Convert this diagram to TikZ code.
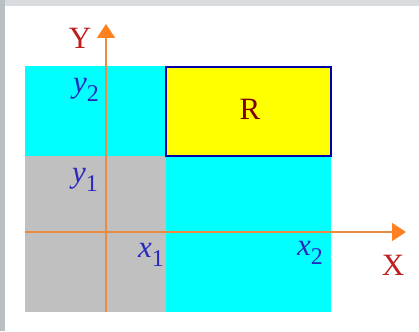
\documentclass[tikz,border=0pt]{standalone}
\usepackage{fontspec}
\setmainfont{Liberation Serif}
\usetikzlibrary{arrows.meta}
\definecolor{cyanfill}{RGB}{0,255,255}
\definecolor{yelfill}{RGB}{255,255,0}
\definecolor{greyfill}{RGB}{192,192,192}
\definecolor{rectblue}{RGB}{0,0,170}
\definecolor{axisorange}{RGB}{236,140,64}
\definecolor{tiporange}{RGB}{255,128,32}
\definecolor{axred}{RGB}{190,30,30}
\definecolor{rred}{RGB}{128,0,0}
\definecolor{lblblue}{RGB}{40,40,190}
\definecolor{frameleft}{RGB}{184,192,196}
\definecolor{frametop}{RGB}{216,220,222}
\tikzset{
  axis/.style={draw=axisorange, line width=1.6pt, -{Triangle[length=14pt,width=18pt,fill=tiporange,color=tiporange]}},
  axlabel/.style={text=axred, font=\fontsize{31}{31}\selectfont, inner sep=0pt},
  rlabel/.style={text=rred, font=\fontsize{31}{31}\selectfont, inner sep=0pt},
  vlabel/.style={text=lblblue, font=\fontsize{31}{31}\selectfont\itshape, inner sep=0pt},
}
\newcommand{\sublbl}[2]{#1\raisebox{-0.3em}{\upshape\fontsize{24}{24}\selectfont #2}}
\begin{document}
\begin{tikzpicture}[x=1pt,y=-1pt]
\useasboundingbox (0,0) rectangle (419,331);
\fill[white] (0,0) rectangle (419,331);
\fill[frametop] (0,0) rectangle (419,6);
\fill[frameleft] (0,0) rectangle (5,331);
% regions
\fill[cyanfill] (25,66) rectangle (331,312);
\fill[greyfill] (25,156) rectangle (166,312);
\draw[fill=yelfill, draw=rectblue, line width=2pt] (166,67) rectangle (331,156);
% axes
\coordinate (ybot) at (106,312);
\coordinate (ytop) at (106,24);
\coordinate (xleft) at (25,232);
\coordinate (xright) at (406,232);
\draw[axis] (ybot) -- (ytop);
\draw[axis] (xleft) -- (xright);
% labels
\node[axlabel] (Y) at (80,38) {Y};
\node[axlabel] (X) at (393,265) {X};
\node[rlabel] (R) at (250,109) {R};
\node[vlabel] (y2) at (86,90) {\sublbl{y}{2}};
\node[vlabel] (y1) at (85,180) {\sublbl{y}{1}};
\node[vlabel] (x1) at (151,255) {\sublbl{x}{1}};
\node[vlabel] (x2) at (310,253) {\sublbl{x}{2}};
\end{tikzpicture}
\end{document}
